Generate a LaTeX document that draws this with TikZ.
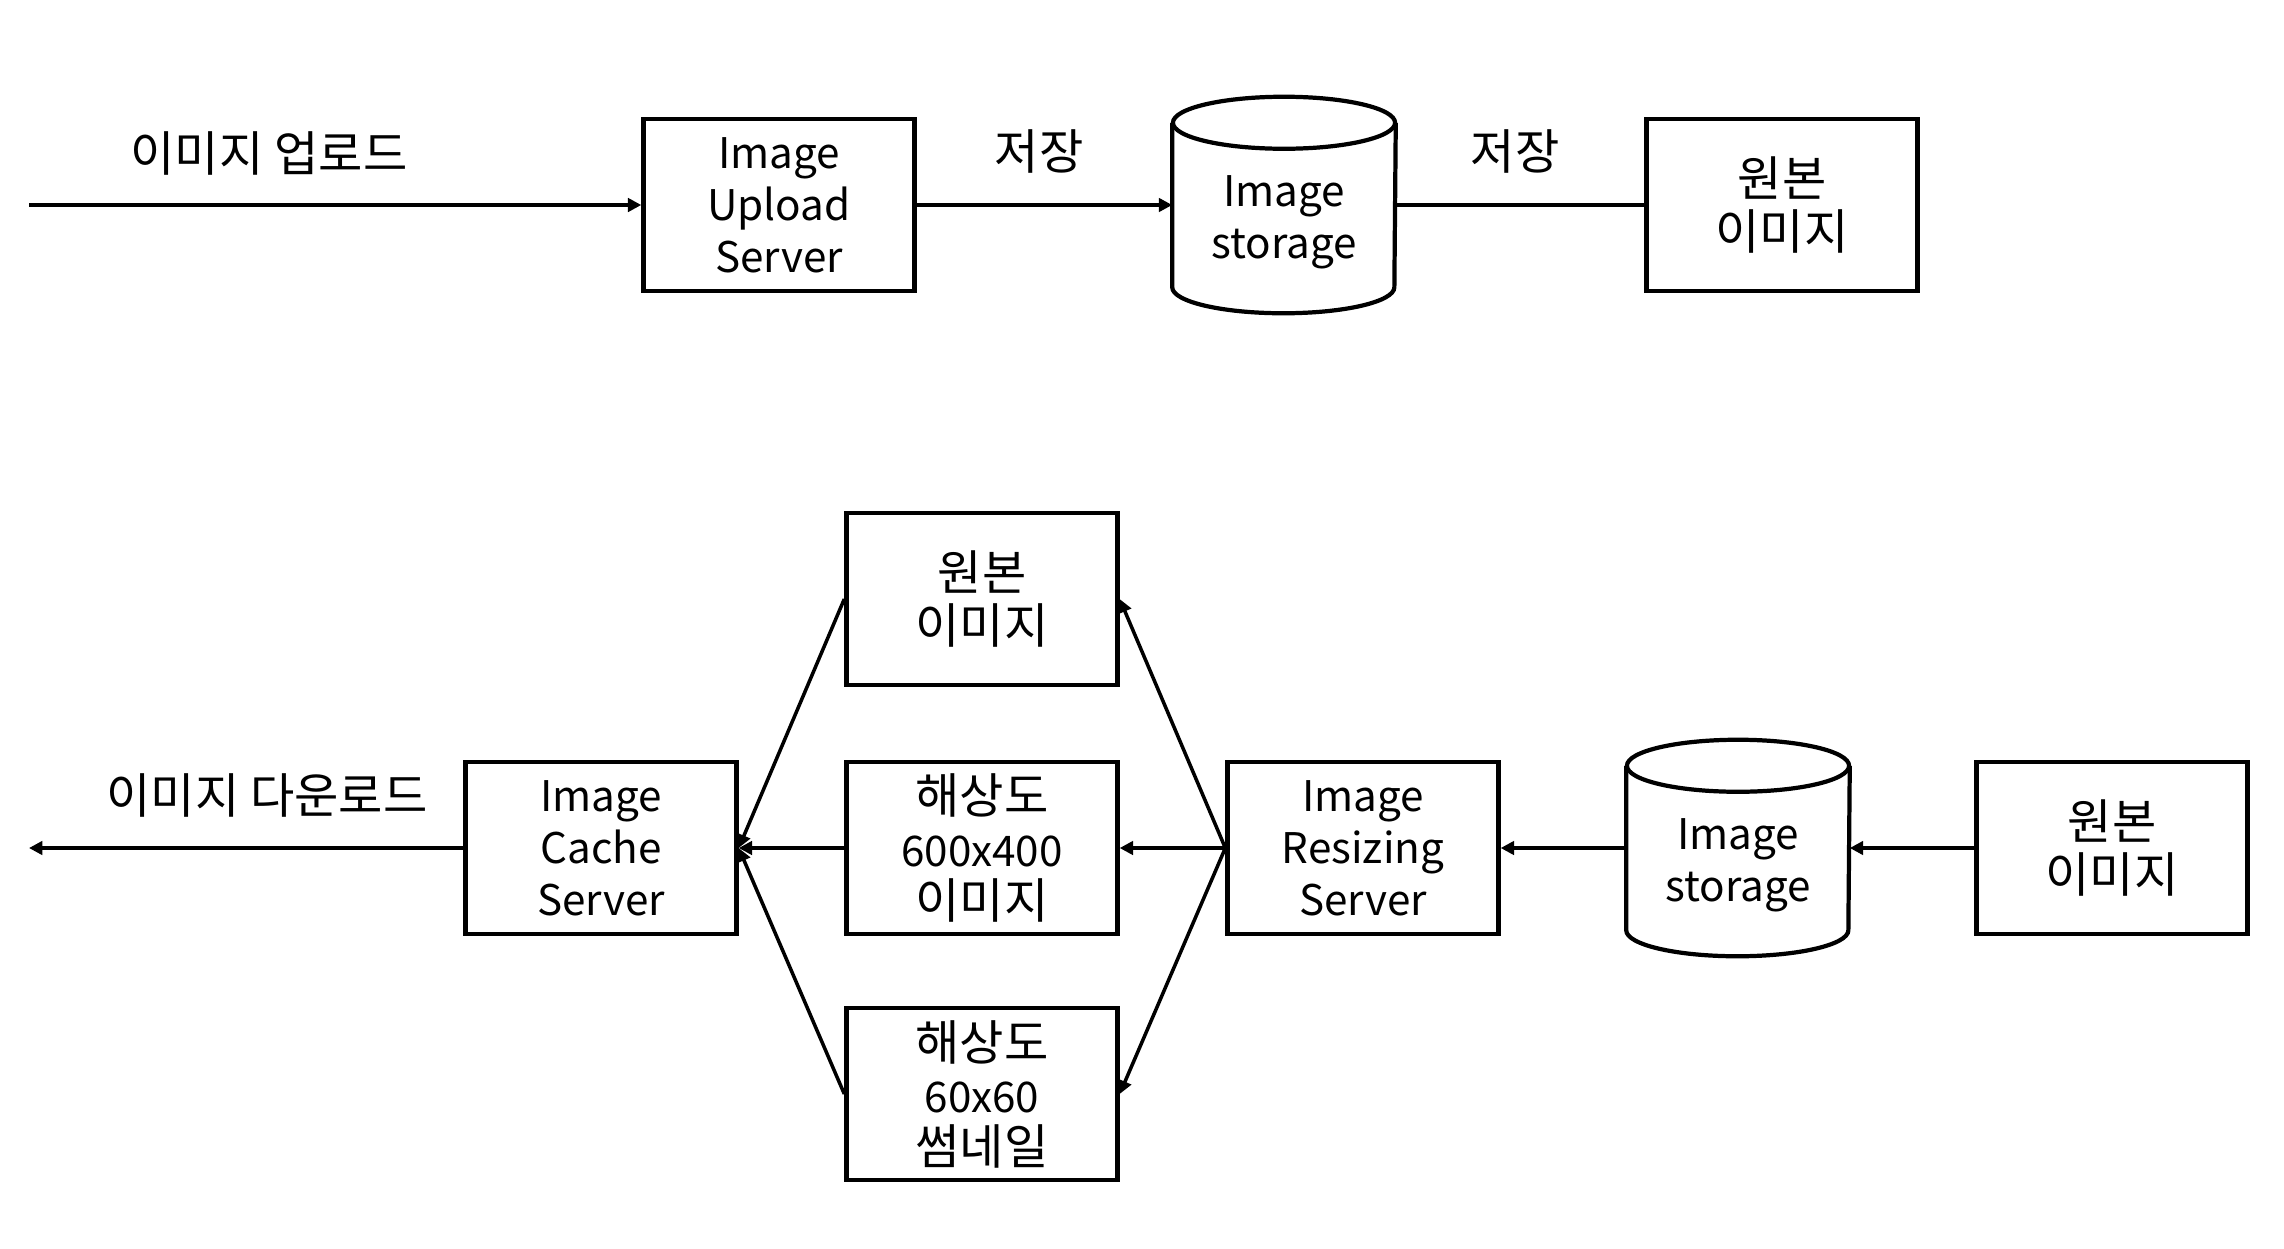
\documentclass[tikz,border=0pt]{standalone}
\usepackage{fontspec}
\setmainfont{Noto Sans CJK KR}
\usetikzlibrary{arrows.meta}
\newcommand\kr[1]{{\fontsize{13.7}{14.8}\selectfont #1}}
\newcommand\mycyl[3]{%
  \node[minimum width=2.22cm, minimum height=2.15cm, inner sep=0pt] (#1) at (#2,#3) {};
  \draw[cylline] ([yshift=-0.26cm]#1.north) ellipse [x radius=1.11cm, y radius=0.26cm];
  \draw[cylline] ([yshift=-0.26cm]#1.north west) -- ([yshift=0.26cm]#1.south west)
     arc[start angle=180, end angle=360, x radius=1.11cm, y radius=0.26cm]
     -- ([yshift=-0.26cm]#1.north east);
  \node[txt, align=center] (#1T) at ([yshift=-0.17cm]#1.center) {Image\\storage};
}
\begin{document}
\begin{tikzpicture}[x=0.01cm,y=-0.01cm,
  txt/.style={font=\fontsize{12}{14.8}\selectfont, inner sep=0pt},
  krtxt/.style={font=\fontsize{13.7}{14.8}\selectfont, inner sep=0pt},
  box/.style={draw, line width=1.2pt, minimum width=2.71cm, minimum height=1.72cm,
    align=center, inner sep=0pt, font=\fontsize{12}{14.8}\selectfont},
  cylline/.style={line width=1.2pt},
  conn/.style={line width=1pt, -{Triangle[length=3.8pt,width=3.8pt]}},
  plainline/.style={line width=1pt}]
\useasboundingbox[fill=white] (0,0) rectangle (2284,1248);

% ---- top row ----
\coordinate (upStart) at (29,205);
\node[box] (upl) at (779,205) {Image\\Upload\\Server};
\mycyl{st1}{1284}{205}
\node[box] (org1) at (1782,205) {\kr{원본}\\\kr{이미지}};
\node[krtxt] (lblUp) at (269,153) {이미지 업로드};
\node[krtxt] (lblS1) at (1039,151) {저장};
\node[krtxt] (lblS2) at (1515,151) {저장};
\draw[conn] (upStart) -- (upl.west);
\draw[conn] (upl.east) -- (st1.west);
\draw[plainline] (st1.east) -- (org1.west);

% ---- bottom row ----
\coordinate (dlEnd) at (29,848);
\node[box] (cache) at (601,848) {Image\\Cache\\Server};
\node[box] (org2) at (982,599) {\kr{원본}\\\kr{이미지}};
\node[box] (r600) at (982,848) {\kr{해상도}\\600x400\\\kr{이미지}};
\node[box] (r60) at (982,1094) {\kr{해상도}\\60x60\\\kr{썸네일}};
\node[box] (res) at (1363,848) {Image\\Resizing\\Server};
\mycyl{st2}{1738}{848}
\node[box] (org3) at (2112,848) {\kr{원본}\\\kr{이미지}};
\node[krtxt] (lblDl) at (267,795) {이미지 다운로드};

\draw[conn] (cache.west) -- (dlEnd);
\draw[conn] (org2.west) -- (cache.east);
\draw[conn] (r600.west) -- (cache.east);
\draw[conn] (r60.west) -- (cache.east);
\draw[conn] (res.west) -- (org2.east);
\draw[conn] (res.west) -- (r600.east);
\draw[conn] (res.west) -- (r60.east);
\draw[conn] (st2.west) -- (res.east);
\draw[conn] (org3.west) -- (st2.east);
\end{tikzpicture}
\end{document}
